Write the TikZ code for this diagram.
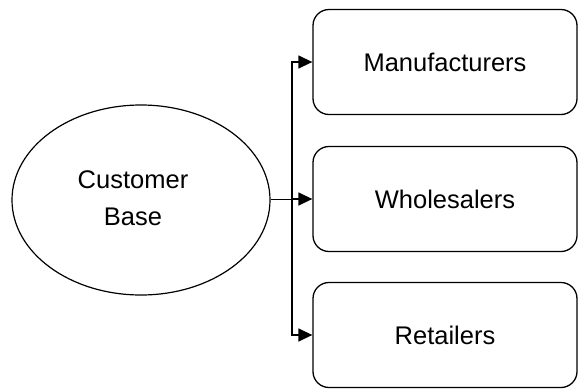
\documentclass[tikz,border=0pt]{standalone}
\usepackage{fontspec}
\setmainfont{Liberation Sans}
\usetikzlibrary{shapes.geometric,arrows.meta}
\begin{document}
\begin{tikzpicture}[x=1pt,y=-1pt,
  lbl/.style={font=\fontsize{25.5}{37}\selectfont, align=center},
  oval/.style={ellipse, draw, line width=1.2pt, minimum width=258pt, minimum height=190pt, inner sep=0pt},
  rbox/.style={rectangle, rounded corners=16pt, draw, line width=1.3pt, minimum width=264pt, minimum height=105pt, inner sep=0pt, lbl},
  conn/.style={line width=1.4pt, -{Triangle[length=14pt,width=13pt]}}]
\useasboundingbox (0,0) rectangle (579,389);
\node[oval] (cb) at (141,200) {};
\node[lbl] (cbt) at (133,198) {Customer\\Base};
\node[rbox] (m) at (445,62) {Manufacturers};
\node[rbox] (w) at (445,199) {Wholesalers};
\node[rbox] (r) at (445,335) {Retailers};
\coordinate (j) at (292,199);
\draw[line width=0.9pt] (cb.east |- j) -- (j);
\draw[conn] (j) -- (w.west);
\draw[conn] (j) |- (m.west);
\draw[conn] (j) |- (r.west);
\end{tikzpicture}
\end{document}
